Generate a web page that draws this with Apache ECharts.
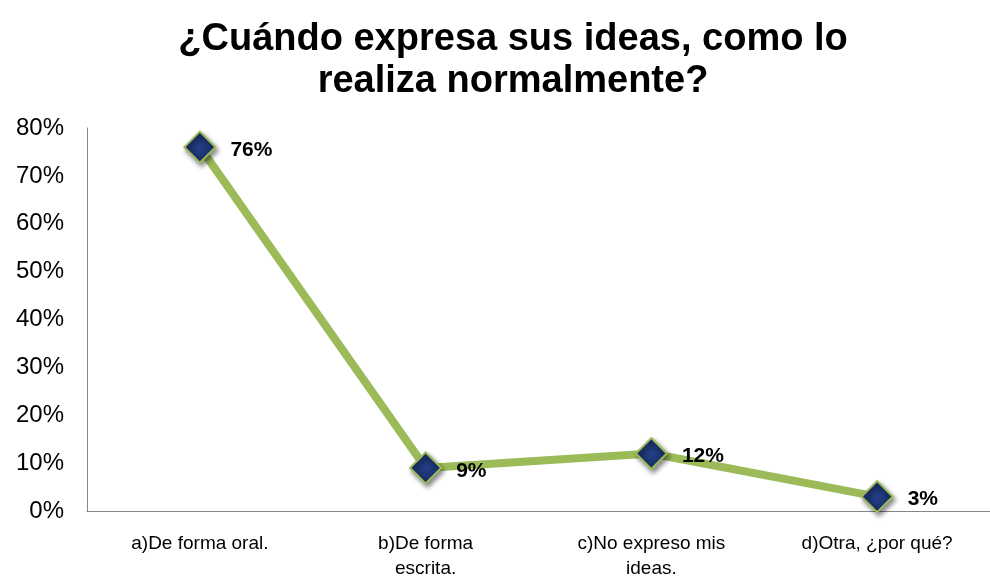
<!DOCTYPE html>
<html>
<head>
<meta charset="utf-8">
<script src="https://cdn.jsdelivr.net/npm/echarts@6/dist/echarts.min.js"></script>
<style>
    html, body { margin: 0; padding: 0; background: #fff; }
    #chart { width: 990px; height: 582px; }
</style>
</head>
<body>
<div id="chart"></div>
<script>
    var categories = ['a)De forma oral.', 'b)De forma\nescrita.', 'c)No expreso mis\nideas.', 'd)Otra, ¿por qué?'];
    var values = [76, 9, 12, 3];
    var yTicks = [0, 10, 20, 30, 40, 50, 60, 70, 80];

    var chart = echarts.init(document.getElementById('chart'));
    var option = {
        backgroundColor: '#fff',
        title: {
            text: '¿Cuándo expresa sus ideas, como lo\nrealiza normalmente?',
            left: 508,
            textAlign: 'center',
            top: 14,
            textStyle: {
                fontFamily: 'Liberation Sans',
                fontSize: 38,
                fontWeight: 'bold',
                color: '#000',
                lineHeight: 42
            }
        },
        grid: {
            left: 87,
            right: 0,
            top: 128,
            bottom: 71,
            outerBoundsMode: 'none'
        },
        xAxis: {
            type: 'category',
            boundaryGap: true,
            data: categories,
            axisLine: { lineStyle: { color: '#868686', width: 1 } },
            axisTick: { show: false },
            axisLabel: {
                interval: 0,
                margin: 20,
                fontFamily: 'Liberation Sans Narrow, Arial Narrow, Liberation Sans',
                fontSize: 19,
                lineHeight: 25,
                color: '#000'
            }
        },
        yAxis: {
            type: 'value',
            min: yTicks[0],
            max: yTicks[yTicks.length - 1],
            interval: 10,
            axisLine: { show: true, lineStyle: { color: '#868686', width: 1 } },
            axisTick: { show: false },
            splitLine: { show: false },
            axisLabel: {
                margin: 23,
                fontFamily: 'Liberation Sans',
                fontSize: 24,
                color: '#000',
                formatter: '{value}%'
            }
        },
        series: [{
            type: 'line',
            data: values,
            symbol: 'diamond',
            symbolSize: 31,
            lineStyle: { color: '#9BBB59', width: 8 },
            itemStyle: {
                color: {
                    type: 'radial', x: 0.5, y: 0.5, r: 0.6,
                    colorStops: [
                        { offset: 0, color: '#243F85' },
                        { offset: 1, color: '#14285A' }
                    ]
                },
                borderColor: '#9BBB59',
                borderWidth: 2,
                shadowColor: 'rgba(0,0,0,0.45)',
                shadowBlur: 5,
                shadowOffsetX: 2,
                shadowOffsetY: 3
            },
            label: {
                show: true,
                position: 'right',
                distance: 14,
                offset: [0, 3],
                formatter: '{c}%',
                fontFamily: 'Liberation Sans',
                fontSize: 21,
                fontWeight: 'bold',
                color: '#000'
            },
            emphasis: { disabled: true }
        }]
    };
    chart.setOption(option);
</script>
</body>
</html>
